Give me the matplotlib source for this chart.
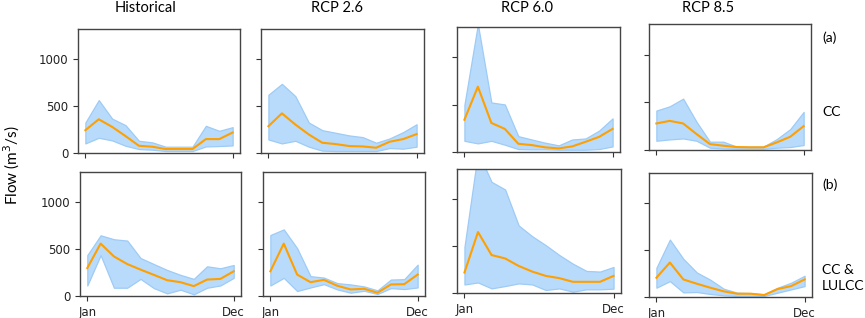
import matplotlib.pyplot as plt
import numpy as np

months = np.arange(12)
month_ticks = [0, 11]
month_labels = ["Jan", "Dec"]
col_titles = ["Historical", "RCP 2.6", "RCP 6.0", "RCP 8.5"]

# mean / upper / lower monthly flow (m3/s), row (a) = CC
cc_mean = [
    [243, 359, 278, 180, 77, 67, 42, 42, 42, 148, 148, 218],
    [285, 422, 303, 197, 109, 95, 74, 70, 56, 120, 148, 201],
    [341, 690, 307, 244, 87, 73, 49, 38, 59, 108, 160, 244],
    [278, 305, 278, 167, 62, 45, 31, 28, 28, 80, 139, 250],
]
cc_upper = [
    [324, 563, 366, 296, 130, 113, 67, 67, 67, 289, 236, 275],
    [620, 736, 605, 324, 243, 215, 187, 169, 109, 155, 222, 306],
    [498, 1350, 523, 502, 167, 132, 98, 70, 132, 143, 226, 355],
    [413, 458, 538, 295, 87, 87, 35, 35, 35, 115, 219, 399],
]
cc_lower = [
    [102, 162, 134, 77, 42, 35, 21, 21, 21, 70, 74, 81],
    [144, 102, 130, 67, 25, 21, 21, 21, 21, 53, 46, 67],
    [118, 91, 118, 77, 31, 28, 28, 24, 24, 24, 31, 59],
    [97, 111, 121, 97, 24, 17, 14, 14, 14, 24, 31, 52],
]

# row (b) = CC & LULCC
lu_mean = [
    [298, 558, 421, 340, 281, 225, 168, 147, 105, 175, 182, 263],
    [263, 558, 228, 147, 172, 109, 70, 77, 35, 123, 126, 228],
    [218, 649, 404, 368, 288, 228, 182, 158, 119, 119, 119, 182],
    [205, 367, 187, 141, 99, 60, 35, 35, 21, 85, 116, 187],
]
lu_upper = [
    [435, 646, 604, 590, 404, 340, 277, 225, 182, 316, 295, 330],
    [649, 709, 509, 211, 196, 137, 123, 102, 60, 175, 179, 333],
    [491, 1500, 1183, 1102, 719, 604, 509, 404, 312, 235, 228, 277],
    [311, 611, 406, 261, 184, 88, 46, 42, 28, 99, 152, 226],
]
lu_lower = [
    [112, 435, 88, 88, 182, 84, 28, 67, 18, 88, 112, 193],
    [112, 193, 53, 91, 126, 70, 35, 56, 21, 84, 74, 91],
    [91, 112, 49, 74, 102, 91, 32, 49, 14, 39, 39, 46],
    [99, 169, 49, 53, 32, 18, 11, 11, 11, 46, 81, 116],
]

W, H = 865, 318
# axes boxes in pixels: left, top, right, bottom
boxes = [
    [(78, 29, 240, 153), (261, 29, 424, 153), (457, 27, 620, 152), (649, 24, 811, 150)],
    [(80, 172, 241, 296), (263, 172, 425, 296), (457, 169, 621, 293), (649, 173, 812, 297)],
]
title_x = [146, 337, 527, 708]

fig = plt.figure(figsize=(W / 100, H / 100), dpi=100)
label_font = "Lato"

rows = [(cc_mean, cc_upper, cc_lower), (lu_mean, lu_upper, lu_lower)]
for r, (mean, upper, lower) in enumerate(rows):
    for c in range(4):
        l, t, rr, b = boxes[r][c]
        ax = fig.add_axes([l / W, 1 - b / H, (rr - l) / W, (b - t) / H])
        ax.fill_between(months, lower[c], upper[c], facecolor="#b8dbfb",
                        edgecolor="#9ecbf5", linewidth=0.9)
        ax.plot(months, mean[c], color="#ffa000", linewidth=1.5)
        ax.set_ylim(0, 1320)
        ax.set_yticks([0, 500, 1000])
        ax.set_xticks(month_ticks)
        if r == 1:
            ax.set_xticklabels(month_labels)
        else:
            ax.set_xticklabels([])
        if c != 0:
            ax.set_yticklabels([])
        ax.tick_params(labelsize=8.5, color="#333333", labelcolor="#222222")
        for sp in ax.spines.values():
            sp.set_color("#444444")
            sp.set_linewidth(1.0)

for c, title in enumerate(col_titles):
    fig.text(title_x[c] / W, 1 - 8 / H, title, ha="center", va="center",
             fontsize=10.5, family=label_font)

fig.text(12 / W, 1 - 165 / H, "Flow (m$^3$/s)", rotation=90, ha="center",
         va="center", fontsize=11, family=label_font)

fig.text(822 / W, 1 - 38 / H, "(a)", ha="left", va="center", fontsize=10, family=label_font)
fig.text(822 / W, 1 - 112 / H, "CC", ha="left", va="center", fontsize=10, family=label_font)
fig.text(822 / W, 1 - 185 / H, "(b)", ha="left", va="center", fontsize=10, family=label_font)
fig.text(822 / W, 1 - 278 / H, "CC &\nLULCC", ha="left", va="center", fontsize=10,
         family=label_font, linespacing=1.4)

fig.savefig("out.png", dpi=100)
